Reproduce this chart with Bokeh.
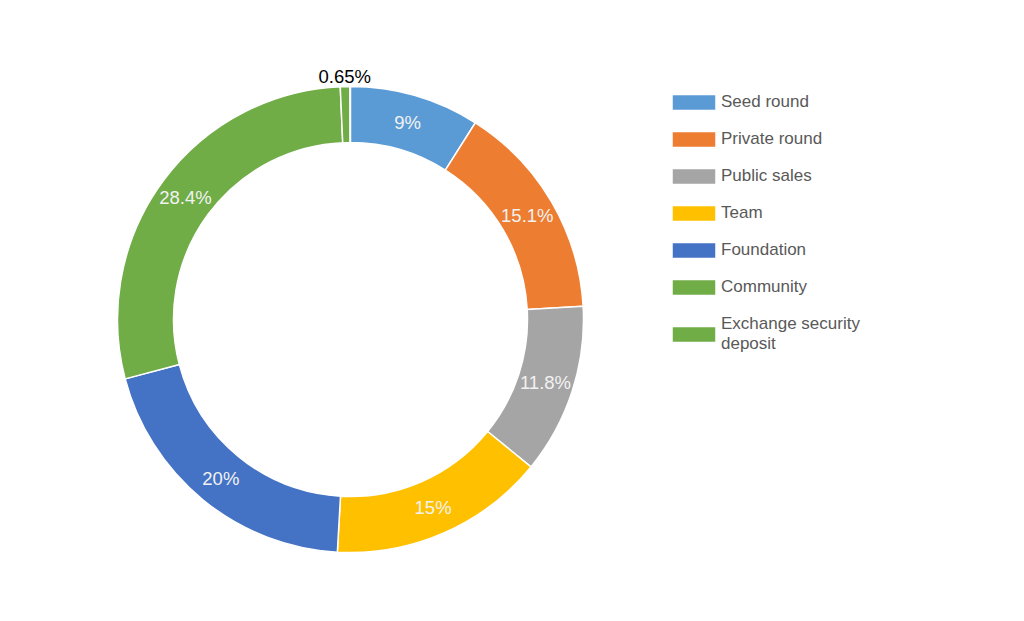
import numpy as np
from bokeh.plotting import figure
from bokeh.models import ColumnDataSource, Range1d, Legend, LegendItem
from bokeh.core.properties import value
from bokeh.embed import file_html
from bokeh.resources import INLINE

categories = ["Seed round", "Private round", "Public sales", "Team", "Foundation",
              "Community", "Exchange security\ndeposit"]
shares = [9, 15.1, 11.8, 15, 20, 28.4, 0.65]
labels = ["9%", "15.1%", "11.8%", "15%", "20%", "28.4%", "0.65%"]
colors = ["#5B9BD5", "#ED7D31", "#A5A5A5", "#FFC000", "#4472C4", "#70AD47", "#70AD47"]

W, H = 1024, 621
cx, cy = 350, H - 319
r_in, r_out = 177, 233

vals = np.array(shares, dtype=float)
frac = vals / 100.0
cum = np.concatenate([[0], np.cumsum(frac)])
start = np.pi / 2 - cum[:-1] * 2 * np.pi
end = np.pi / 2 - cum[1:] * 2 * np.pi
mid = (start + end) / 2

p = figure(width=W, height=H, x_range=Range1d(0, W), y_range=Range1d(0, H),
           output_backend="svg", toolbar_location=None, min_border=0,
           x_axis_location=None, y_axis_location=None)
p.grid.visible = False
p.outline_line_color = None
p.background_fill_color = "white"

renderers = []
for i in range(len(shares)):
    r = p.annular_wedge(x=cx, y=cy, inner_radius=r_in, outer_radius=r_out,
                        start_angle=start[i], end_angle=end[i], direction="clock",
                        fill_color=colors[i], line_color="white", line_width=1.5)
    renderers.append(r)

# labels
inside = vals >= 2
lr = np.where(inside, (r_in + r_out) / 2, r_out + 10)
lx = cx + lr * np.cos(mid)
ly = cy + lr * np.sin(mid)
lcol = ["#F2F2F2" if ok else "#000000" for ok in inside]
lsrc = ColumnDataSource(dict(x=lx, y=ly, t=labels, c=lcol))
p.text(x="x", y="y", text="t", text_color="c", source=lsrc,
       text_font=value("Liberation Sans"), text_font_size="18.5px",
       text_align="center", text_baseline="middle")

items = [LegendItem(label=categories[i], renderers=[renderers[i]]) for i in range(len(shares))]
legend = Legend(items=items, location=(666, 267), orientation="vertical",
                glyph_width=55, glyph_height=20, label_height=17, spacing=17,
                label_standoff=0, padding=0, margin=0,
                label_text_font="Liberation Sans", label_text_font_size="17px",
                label_text_color="#595959", border_line_color=None,
                background_fill_alpha=0)
p.add_layout(legend, "center")

open("out.html", "w").write(file_html(p, INLINE))
